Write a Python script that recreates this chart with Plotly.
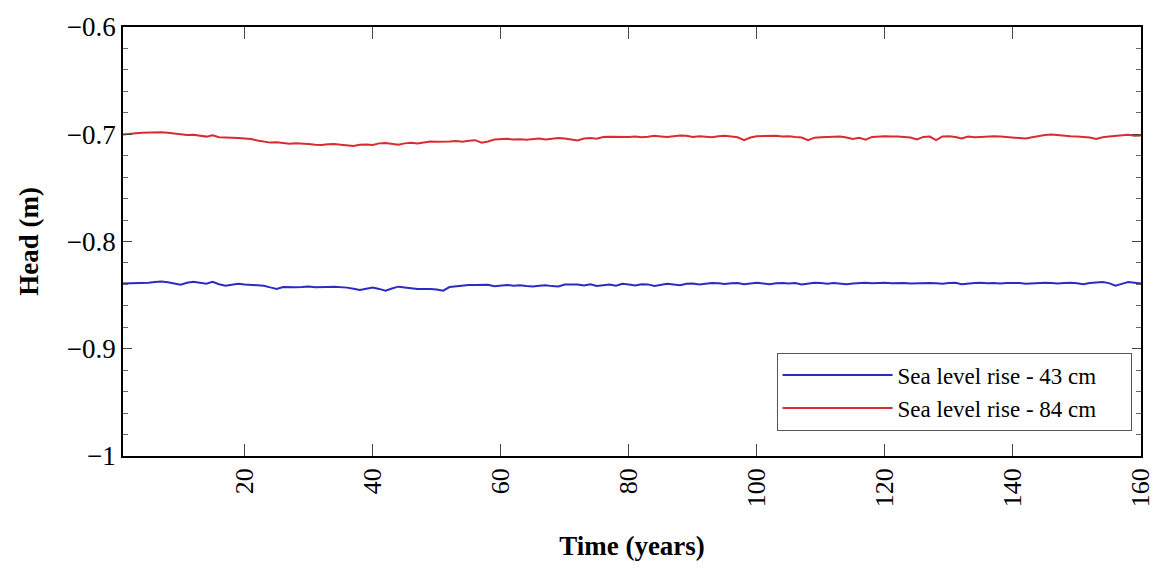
import plotly.graph_objects as go

years = list(range(1, 161))

head_43cm = [
    -0.8391, -0.8390, -0.8388, -0.8386, -0.8385, -0.8378, -0.8373, -0.8380, -0.8392, -0.8403,
    -0.8385, -0.8376, -0.8385, -0.8394, -0.8376, -0.8398, -0.8412, -0.8400, -0.8394, -0.8400,
    -0.8406, -0.8410, -0.8412, -0.8428, -0.8442, -0.8425, -0.8422, -0.8426, -0.8424, -0.8420,
    -0.8426, -0.8428, -0.8424, -0.8422, -0.8425, -0.8430, -0.8440, -0.8452, -0.8440, -0.8430,
    -0.8442, -0.8458, -0.8438, -0.8421, -0.8428, -0.8438, -0.8442, -0.8444, -0.8442, -0.8448,
    -0.8458, -0.8425, -0.8420, -0.8408, -0.8406, -0.8405, -0.8406, -0.8404, -0.8418, -0.8410,
    -0.8405, -0.8412, -0.8408, -0.8415, -0.8420, -0.8412, -0.8408, -0.8416, -0.8420, -0.8402,
    -0.8398, -0.8400, -0.8410, -0.8398, -0.8415, -0.8405, -0.8400, -0.8412, -0.8395, -0.8402,
    -0.8410, -0.8398, -0.8400, -0.8415, -0.8405, -0.8395, -0.8402, -0.8408, -0.8395, -0.8392,
    -0.8402, -0.8395, -0.8386, -0.8390, -0.8396, -0.8390, -0.8388, -0.8398, -0.8392, -0.8385,
    -0.8392, -0.8398, -0.8390, -0.8386, -0.8392, -0.8388, -0.8400, -0.8390, -0.8384, -0.8388,
    -0.8394, -0.8386, -0.8390, -0.8398, -0.8392, -0.8386, -0.8384, -0.8390, -0.8388, -0.8385,
    -0.8390, -0.8386, -0.8388, -0.8392, -0.8388, -0.8384, -0.8386, -0.8390, -0.8395, -0.8388,
    -0.8385, -0.8398, -0.8390, -0.8386, -0.8384, -0.8390, -0.8388, -0.8392, -0.8386, -0.8384,
    -0.8388, -0.8395, -0.8390, -0.8386, -0.8384, -0.8388, -0.8392, -0.8386, -0.8384, -0.8390,
    -0.8398, -0.8386, -0.8380, -0.8378, -0.8388, -0.8412, -0.8395, -0.8378, -0.8385, -0.8392,
]

head_84cm = [
    -0.7003, -0.7000, -0.6990, -0.6985, -0.6983, -0.6987, -0.6982, -0.6985, -0.6992, -0.7000,
    -0.7008, -0.7004, -0.7015, -0.7022, -0.7010, -0.7028, -0.7030, -0.7029, -0.7034, -0.7040,
    -0.7045, -0.7058, -0.7070, -0.7078, -0.7075, -0.7082, -0.7088, -0.7083, -0.7085, -0.7090,
    -0.7098, -0.7100, -0.7094, -0.7092, -0.7098, -0.7104, -0.7110, -0.7098, -0.7095, -0.7100,
    -0.7085, -0.7082, -0.7090, -0.7098, -0.7085, -0.7080, -0.7086, -0.7075, -0.7068, -0.7070,
    -0.7072, -0.7068, -0.7064, -0.7070, -0.7060, -0.7055, -0.7078, -0.7068, -0.7050, -0.7045,
    -0.7043, -0.7048, -0.7046, -0.7052, -0.7045, -0.7040, -0.7048, -0.7042, -0.7035, -0.7040,
    -0.7048, -0.7058, -0.7040, -0.7036, -0.7042, -0.7025, -0.7024, -0.7026, -0.7022, -0.7025,
    -0.7020, -0.7028, -0.7024, -0.7014, -0.7020, -0.7026, -0.7018, -0.7012, -0.7015, -0.7025,
    -0.7018, -0.7022, -0.7028, -0.7018, -0.7015, -0.7022, -0.7028, -0.7055, -0.7030, -0.7018,
    -0.7016, -0.7020, -0.7015, -0.7022, -0.7018, -0.7025, -0.7030, -0.7055, -0.7032, -0.7028,
    -0.7024, -0.7020, -0.7022, -0.7030, -0.7045, -0.7032, -0.7050, -0.7025, -0.7020, -0.7018,
    -0.7022, -0.7020, -0.7025, -0.7030, -0.7048, -0.7025, -0.7022, -0.7055, -0.7020, -0.7018,
    -0.7025, -0.7040, -0.7022, -0.7028, -0.7025, -0.7020, -0.7018, -0.7022, -0.7025, -0.7030,
    -0.7035, -0.7040, -0.7028, -0.7015, -0.7008, -0.7003, -0.7010, -0.7018, -0.7018, -0.7020,
    -0.7022, -0.7030, -0.7043, -0.7028, -0.7022, -0.7018, -0.7010, -0.7005, -0.7015, -0.7012,
]

series_names = ["Sea level rise - 43 cm", "Sea level rise - 84 cm"]
series_colors = ["#2b2bc4", "#d92b32"]

x_tickvals = [20, 40, 60, 80, 100, 120, 140, 160]
y_tickvals = [-1.0, -0.9, -0.8, -0.7, -0.6]
y_ticktext = ["\u22121", "\u22120.9", "\u22120.8", "\u22120.7", "\u22120.6"]

FONT = "Liberation Serif, Times New Roman, serif"
PAD = "\u00a0" * 5  # right padding inside the legend box

fig = go.Figure()
for name, ys, col in zip(series_names, [head_43cm, head_84cm], series_colors):
    fig.add_trace(go.Scatter(x=years, y=ys, mode="lines", name=name + PAD,
                             line=dict(color=col, width=2)))

L, R, T, B = 123, 19, 18, 110
fig.update_layout(
    width=1167, height=568,
    margin=dict(l=L, r=R, t=T, b=B),
    paper_bgcolor="white", plot_bgcolor="white",
    font=dict(family=FONT, color="black", size=26),
    showlegend=True,
    legend=dict(
        x=0.642, y=0.241, xanchor="left", yanchor="top",
        bgcolor="white", bordercolor="#555555", borderwidth=1,
        font=dict(family=FONT, size=23, color="black"),
        itemwidth=110, tracegroupgap=0,
    ),
)
fig.update_xaxes(
    range=[1, 160], tickvals=x_tickvals, ticktext=[str(v) for v in x_tickvals],
    tickangle=-90, ticks="inside", ticklen=12, tickwidth=1, tickcolor="#444",
    showline=True, linecolor="black", linewidth=1.5, mirror="ticks",
    showgrid=False, zeroline=False,
    tickfont=dict(family=FONT, size=26),
    title=dict(text="<b>Time (years)</b>", font=dict(family=FONT, size=27), standoff=30),
)
fig.update_yaxes(
    range=[-1.0, -0.6], tickvals=y_tickvals, ticktext=y_ticktext,
    ticks="inside", ticklen=9, tickwidth=1, tickcolor="#444",
    minor=dict(dtick=0.02, tick0=-1.0, ticks="inside", ticklen=5, tickcolor="#666", showgrid=False),
    showline=True, linecolor="black", linewidth=1.5, mirror="ticks",
    showgrid=False, zeroline=False,
    tickfont=dict(family=FONT, size=27),
    title=dict(text="<b>Head (m)</b>", font=dict(family=FONT, size=27), standoff=20),
)

fig.write_html("out.html")
